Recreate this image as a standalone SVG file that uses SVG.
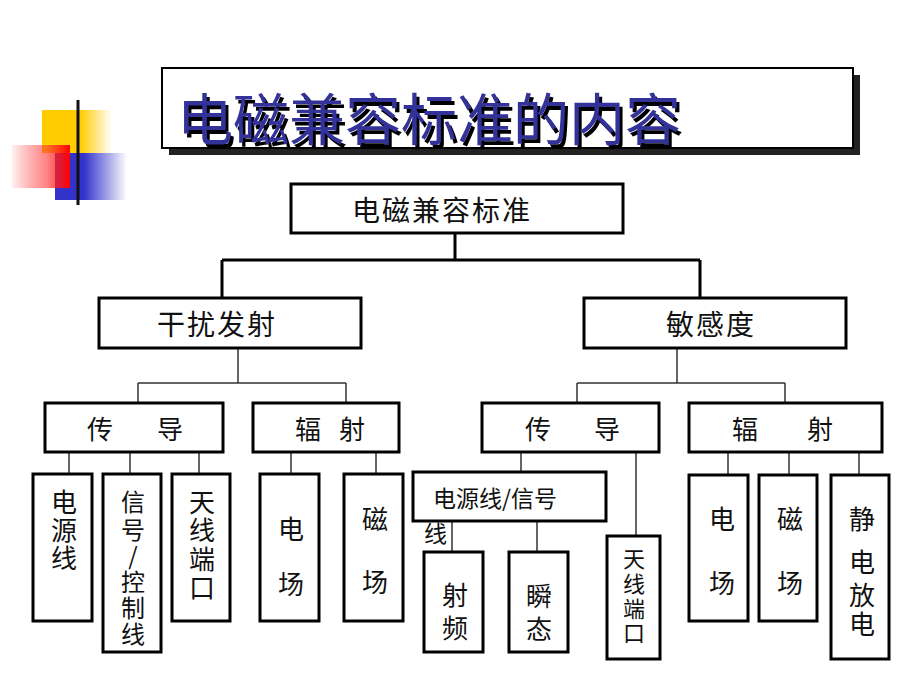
<svg xmlns="http://www.w3.org/2000/svg" width="920" height="690" viewBox="0 0 920 690">
<defs>
<linearGradient id="gline" x1="0" y1="0" x2="1" y2="0">
<stop offset="0" stop-color="#111"/>
<stop offset="0.45" stop-color="#777"/>
<stop offset="0.75" stop-color="#ccc"/>
<stop offset="1" stop-color="#f4f4f4"/>
</linearGradient>
<linearGradient id="gy" x1="0" y1="0" x2="1" y2="0">
<stop offset="0" stop-color="#ffcc00"/>
<stop offset="0.55" stop-color="#ffcc00"/>
<stop offset="1" stop-color="#ffcc00" stop-opacity="0"/>
</linearGradient>
<linearGradient id="gr" x1="0" y1="0" x2="1" y2="0">
<stop offset="0" stop-color="#ff0000" stop-opacity="0.05"/>
<stop offset="0.6" stop-color="#ff3333" stop-opacity="0.6"/>
<stop offset="1" stop-color="#ff0000"/>
</linearGradient>
<linearGradient id="gb" x1="0" y1="0" x2="1" y2="0">
<stop offset="0" stop-color="#3333cc"/>
<stop offset="0.4" stop-color="#3333cc"/>
<stop offset="1" stop-color="#3333cc" stop-opacity="0"/>
</linearGradient>
<filter id="tshadow" x="-5%" y="-20%" width="110%" height="150%">
<feOffset in="SourceAlpha" dx="3" dy="4" result="off"/>
<feMerge><feMergeNode in="off"/><feMergeNode in="SourceGraphic"/></feMerge>
</filter>
<style>
.box{fill:#fff;stroke:#000;stroke-width:3}
.t{font-family:"Noto Sans CJK SC","Noto Sans",sans-serif;fill:#111;text-anchor:middle;dominant-baseline:central}
.f28{font-size:28px;letter-spacing:2px}
.f26{font-size:26px}
.f24{font-size:24px}
.f23{font-size:23px}
.f22{font-size:22px}
.thick{stroke:#000;stroke-width:3;fill:none}
.thin{stroke:#333;stroke-width:1.5;fill:none}
.title{font-family:"Noto Sans CJK SC","Noto Sans",sans-serif;font-size:56px;text-anchor:middle;dominant-baseline:central;fill:#333399}
</style>
</defs>
<rect width="920" height="690" fill="#fff"/>

<g id="decoration">
<rect x="42" y="110" width="70" height="43" fill="url(#gy)"/>
<rect x="55" y="153" width="72" height="47" fill="url(#gb)"/>
<rect x="12" y="145" width="58" height="43" fill="url(#gr)"/>
<line x1="78" y1="100" x2="78" y2="205" stroke="#111" stroke-width="3"/>
<line x1="44" y1="180" x2="895" y2="180" stroke="url(#gline)" stroke-width="3"/>
</g>

<g id="title">
<rect x="169" y="75" width="691" height="80" fill="#222"/>
<rect x="162" y="68" width="691" height="80" fill="#fff" stroke="#000" stroke-width="2"/>
<text class="title" x="429" y="115" filter="url(#tshadow)">电磁兼容标准的内容</text>
</g>

<g id="connectors">
<path class="thick" d="M455 233V260M222 260H700M222 260V298M700 260V298"/>
<path class="thin" d="M238 348V383M138 383H346M138 383V403M346 383V403"/>
<path class="thin" d="M677 348V383M577 383H785M577 383V403M785 383V403"/>
<path class="thin" d="M69 452V474M130 452V474M199 452V474M291 452V474M376 452V474"/>
<path class="thin" d="M521 452V472M636 452V536M452 521V552M537 521V552"/>
<path class="thin" d="M728 452V475M789 452V475M859 452V475"/>
</g>

<g id="n-root"><rect class="box" x="291" y="184" width="332" height="49"/><text class="t f28" x="442" y="209">电磁兼容标准</text></g>
<g id="n-emission"><rect class="box" x="99" y="298" width="262" height="50"/><text class="t f28" x="217" y="323">干扰发射</text></g>
<g id="n-susceptibility"><rect class="box" x="584" y="298" width="262" height="50"/><text class="t f28" x="711" y="323">敏感度</text></g>

<g id="n-ce"><rect class="box" x="45" y="403" width="178" height="49"/><text class="t f26" y="427"><tspan x="100">传</tspan><tspan x="170">导</tspan></text></g>
<g id="n-re"><rect class="box" x="253" y="403" width="146" height="49"/><text class="t f26" y="427"><tspan x="308">辐</tspan><tspan x="352">射</tspan></text></g>
<g id="n-cs"><rect class="box" x="482" y="403" width="177" height="49"/><text class="t f26" y="427"><tspan x="538">传</tspan><tspan x="607">导</tspan></text></g>
<g id="n-rs"><rect class="box" x="689" y="403" width="193" height="49"/><text class="t f26" y="427"><tspan x="745">辐</tspan><tspan x="820">射</tspan></text></g>

<g id="n-power"><rect class="box" x="33" y="474" width="59" height="147"/>
<text class="t f26"><tspan x="64" y="500">电</tspan><tspan x="64" y="528">源</tspan><tspan x="64" y="556">线</tspan></text></g>
<g id="n-signal"><rect class="box" x="103" y="474" width="58" height="178"/>
<text class="t f24"><tspan x="133" y="500">信</tspan><tspan x="133" y="528">号</tspan><tspan x="133" y="554">/</tspan><tspan x="133" y="580">控</tspan><tspan x="133" y="606">制</tspan><tspan x="133" y="632">线</tspan></text></g>
<g id="n-antenna-e"><rect class="box" x="172" y="474" width="58" height="147"/>
<text class="t f26"><tspan x="202" y="500">天</tspan><tspan x="202" y="528">线</tspan><tspan x="202" y="557">端</tspan><tspan x="202" y="586">口</tspan></text></g>
<g id="n-efield-e"><rect class="box" x="260" y="474" width="59" height="147"/>
<text class="t f26"><tspan x="291" y="527">电</tspan><tspan x="291" y="582">场</tspan></text></g>
<g id="n-hfield-e"><rect class="box" x="344" y="474" width="59" height="147"/>
<text class="t f26"><tspan x="375" y="517">磁</tspan><tspan x="375" y="580">场</tspan></text></g>

<g id="n-powersignal"><rect class="box" x="413" y="472" width="193" height="49"/>
<text class="t f23" style="text-anchor:start"><tspan x="433" y="497">电源线/信号</tspan><tspan x="424" y="532">线</tspan></text></g>
<g id="n-rf"><rect class="box" x="424" y="552" width="59" height="100"/>
<text class="t f26"><tspan x="455" y="593">射</tspan><tspan x="455" y="626">频</tspan></text></g>
<g id="n-transient"><rect class="box" x="509" y="552" width="59" height="100"/>
<text class="t f26"><tspan x="539" y="594">瞬</tspan><tspan x="539" y="627">态</tspan></text></g>
<g id="n-antenna-s"><rect class="box" x="607" y="536" width="53" height="123"/>
<text class="t f22"><tspan x="634" y="557">天</tspan><tspan x="634" y="582">线</tspan><tspan x="634" y="607">端</tspan><tspan x="634" y="631">口</tspan></text></g>
<g id="n-efield-s"><rect class="box" x="689" y="475" width="59" height="146"/>
<text class="t f26"><tspan x="722" y="517">电</tspan><tspan x="722" y="581">场</tspan></text></g>
<g id="n-hfield-s"><rect class="box" x="759" y="475" width="58" height="146"/>
<text class="t f26"><tspan x="790" y="517">磁</tspan><tspan x="790" y="581">场</tspan></text></g>
<g id="n-esd"><rect class="box" x="831" y="475" width="58" height="184"/>
<text class="t f26"><tspan x="862" y="517">静</tspan><tspan x="862" y="560">电</tspan><tspan x="862" y="593">放</tspan><tspan x="862" y="622">电</tspan></text></g>
</svg>
